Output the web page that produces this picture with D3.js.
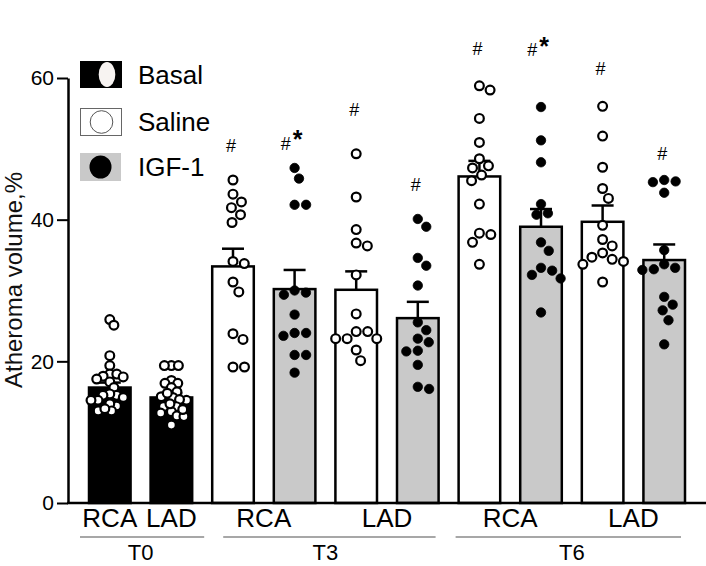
<!DOCTYPE html>
<html>
<head>
<meta charset="utf-8">
<script src="https://cdn.jsdelivr.net/npm/d3@7"></script>
<style>
  html, body { margin: 0; padding: 0; background: #fff; }
  svg { display: block; font-family: "Liberation Sans", Arial, sans-serif; }
</style>
</head>
<body>
<svg id="chart" width="706" height="566"></svg>
<script>
// ---------------- DATA ----------------
const timeGroups = ["T0", "T3", "T6"];
const barIds = ["T0-RCA", "T0-LAD", "T3-RCA-S", "T3-RCA-I", "T3-LAD-S", "T3-LAD-I", "T6-RCA-S", "T6-RCA-I", "T6-LAD-S", "T6-LAD-I"];
const barGroup = ["T0", "T0", "T3", "T3", "T3", "T3", "T6", "T6", "T6", "T6"];
const barArtery = ["RCA", "LAD", "RCA", "RCA", "LAD", "LAD", "RCA", "RCA", "LAD", "LAD"];
const barTreatment = ["Basal", "Basal", "Saline", "IGF-1", "Saline", "IGF-1", "Saline", "IGF-1", "Saline", "IGF-1"];
const barMeans = [16.3, 14.9, 33.4, 30.2, 30.1, 26.1, 46.1, 39.0, 39.7, 34.3];
const barSEM = [0.7, 0.6, 2.5, 2.7, 2.6, 2.3, 2.2, 2.5, 2.3, 2.2];

const ptsT0RCA = [25.9, 25.1, 20.8, 19.4, 18.2, 17.9, 17.5, 18.2, 17.8, 17.1, 16.3, 15.2, 15.4, 15.2, 14.9, 14.5, 14.5, 13.7, 14.0, 13.0, 13.0, 13.3];
const ptsT0LAD = [19.4, 19.4, 19.4, 17.3, 16.9, 16.9, 16.3, 15.7, 15.0, 14.9, 14.5, 14.6, 13.6, 13.6, 12.9, 12.7, 12.3, 12.2, 11.0, 15.5, 14.0, 13.2];
const ptsT3RCAS = [45.6, 43.6, 42.5, 41.7, 40.7, 39.6, 34.1, 33.8, 31.2, 29.8, 23.9, 23.1, 19.2, 19.2];
const ptsT3RCAI = [47.3, 45.8, 42.1, 42.1, 30.0, 29.4, 29.7, 26.6, 24.0, 23.6, 24.0, 20.9, 20.9, 18.4];
const ptsT3LADS = [49.3, 43.2, 38.6, 36.3, 36.7, 32.2, 26.7, 24.2, 24.2, 23.2, 23.2, 23.2, 21.6, 20.1];
const ptsT3LADI = [40.1, 39.0, 34.6, 33.5, 30.7, 25.5, 24.4, 23.2, 22.7, 21.4, 21.5, 19.5, 16.1, 16.4];
const ptsT6RCAS = [58.9, 58.3, 54.3, 50.9, 48.6, 47.6, 47.3, 46.3, 45.5, 42.2, 37.9, 36.8, 38.1, 33.7];
const ptsT6RCAI = [55.9, 51.2, 48.1, 42.2, 40.9, 40.7, 36.8, 35.6, 33.2, 32.8, 32.2, 31.7, 26.9];
const ptsT6LADS = [56.0, 51.8, 47.4, 44.4, 43.0, 39.2, 37.2, 36.3, 35.3, 34.7, 34.1, 33.7, 34.4, 31.2];
const ptsT6LADI = [45.3, 45.6, 45.4, 43.8, 35.7, 33.7, 33.0, 32.9, 33.2, 29.1, 28.0, 27.2, 25.8, 22.4];
const barPoints = [ptsT0RCA, ptsT0LAD, ptsT3RCAS, ptsT3RCAI, ptsT3LADS, ptsT3LADI, ptsT6RCAS, ptsT6RCAI, ptsT6LADS, ptsT6LADI];

// significance marks: text and the value (axis units) at which they sit
const annotText = ["", "", "#", "#*", "#", "#", "#", "#*", "#", "#"];
const annotValue = [0, 0, 50.4, 50.8, 55.6, 45.0, 64.1, 64.0, 61.3, 49.4];

const yTicks = [0, 20, 40, 60];
const yLabel = "Atheroma volume,%";
const legendItems = ["Basal", "Saline", "IGF-1"];

// ---------------- LAYOUT ----------------
const svg = d3.select("#chart");
const axisX0 = 68, axisXEnd = 706;

const x = d3.scaleBand().domain(barIds).range([89, 685]).paddingInner(0.325).paddingOuter(0);
const y = d3.scaleLinear().domain([0, 60]).range([503, 78]);

const fillFor = { "Basal": "#000", "Saline": "#fff", "IGF-1": "#c9c9c9" };

// bars
const bars = barIds.map((id, i) => ({ id, i, mean: barMeans[i], sem: barSEM[i], t: barTreatment[i] }));

svg.append("g").selectAll("rect").data(bars).join("rect")
  .attr("x", d => x(d.id))
  .attr("y", d => y(d.mean))
  .attr("width", x.bandwidth())
  .attr("height", d => y(0) - y(d.mean))
  .attr("fill", d => fillFor[d.t])
  .attr("stroke", "#000")
  .attr("stroke-width", 2.5);

// error bars (upper only)
const capHalf = 11;
const eg = svg.append("g").attr("stroke", "#000").attr("stroke-width", 2.5);
bars.forEach(d => {
  const cx = x(d.id) + x.bandwidth() / 2;
  eg.append("line").attr("x1", cx).attr("x2", cx).attr("y1", y(d.mean)).attr("y2", y(d.mean + d.sem));
  eg.append("line").attr("x1", cx - capHalf).attr("x2", cx + capHalf).attr("y1", y(d.mean + d.sem)).attr("y2", y(d.mean + d.sem));
});

// beeswarm dodge for points
function dodge(values, diam) {
  const order = values.map((v, k) => k).sort((a, b) => values[b] - values[a]);
  const placed = [];
  const out = new Array(values.length);
  order.forEach(k => {
    const py = y(values[k]);
    const cands = [0];
    placed.forEach(p => {
      const dy = Math.abs(p.y - py);
      if (dy < diam) {
        const dx = Math.sqrt(diam * diam - dy * dy);
        cands.push(p.x + dx, p.x - dx);
      }
    });
    cands.sort((a, b) => Math.abs(a) - Math.abs(b) || b - a);
    let best = 0;
    for (const c of cands) {
      const ok = placed.every(p => (p.x - c) ** 2 + (p.y - py) ** 2 >= diam * diam - 0.01);
      if (ok) { best = c; break; }
    }
    placed.push({ x: best, y: py });
    out[k] = { x: best, y: py, v: values[k] };
  });
  return out;
}

const pg = svg.append("g");
bars.forEach(d => {
  const cx = x(d.id) + x.bandwidth() / 2;
  const pts = dodge(barPoints[d.i], d.t === "Basal" ? 7 : 11.5);
  const filled = d.t === "IGF-1";
  pg.append("g").selectAll("circle").data(pts).join("circle")
    .attr("cx", p => cx + p.x)
    .attr("cy", p => p.y)
    .attr("r", filled ? 4.7 : 4.4)
    .attr("fill", filled ? "#000" : "#fff")
    .attr("stroke", "#000")
    .attr("stroke-width", filled ? 0.8 : 2.2);
});

// significance annotations
const ag = svg.append("g").attr("text-anchor", "middle");
bars.forEach(d => {
  const txt = annotText[d.i];
  if (!txt) return;
  const cx = x(d.id) + x.bandwidth() / 2;
  const t = ag.append("text").attr("x", cx - (txt.length > 1 ? 3 : 2)).attr("y", y(annotValue[d.i])).attr("dy", "0.36em")
    .attr("font-size", 18).attr("fill", "#000");
  t.append("tspan").text("#");
  if (txt.length > 1) {
    t.append("tspan").text("*").attr("font-size", 25).attr("font-weight", "bold").attr("dy", "-0.05em").attr("dx", 2);
  }
});

// axes
const yAxis = d3.axisLeft(y).tickValues(yTicks).tickSize(11).tickSizeOuter(0).tickPadding(3);
const yg = svg.append("g").attr("transform", `translate(${axisX0},0)`).call(yAxis);
yg.select(".domain").attr("stroke", "#000").attr("stroke-width", 2.5);
yg.selectAll(".tick line").attr("stroke", "#000").attr("stroke-width", 2);
yg.selectAll(".tick text").attr("font-size", 21).attr("fill", "#000")
  .attr("font-family", "'Liberation Sans', Arial, sans-serif");

svg.append("line").attr("x1", axisX0 - 1).attr("x2", axisXEnd).attr("y1", y(0)).attr("y2", y(0))
  .attr("stroke", "#000").attr("stroke-width", 2.5);

svg.append("text")
  .attr("transform", `translate(22,${280}) rotate(-90)`)
  .attr("text-anchor", "middle")
  .attr("font-size", 24)
  .attr("fill", "#111")
  .text(yLabel);

// artery labels: centre of bars sharing group + artery
const arteryLabels = d3.groups(bars, d => barGroup[d.i] + "|" + barArtery[d.i]).map(([key, arr]) => {
  const x0 = d3.min(arr, d => x(d.id));
  const x1 = d3.max(arr, d => x(d.id) + x.bandwidth());
  return { label: key.split("|")[1], cx: (x0 + x1) / 2 };
});
svg.append("g").selectAll("text").data(arteryLabels).join("text")
  .attr("x", d => d.cx).attr("y", 527)
  .attr("text-anchor", "middle").attr("font-size", 26).attr("fill", "#000")
  .text(d => d.label);

// time groups: underline + label
const groupPad = { "T0": [-9, 12], "T3": [11, -3], "T6": [-3, -4] };
timeGroups.forEach(g => {
  const arr = bars.filter(d => barGroup[d.i] === g);
  const x0 = d3.min(arr, d => x(d.id));
  const x1 = d3.max(arr, d => x(d.id) + x.bandwidth());
  const pad = groupPad[g];
  svg.append("line").attr("x1", x0 + pad[0]).attr("x2", x1 + pad[1]).attr("y1", 537).attr("y2", 537)
    .attr("stroke", "#8a8a8a").attr("stroke-width", 1.6);
  svg.append("text").attr("x", (x0 + x1) / 2).attr("y", 560).attr("text-anchor", "middle")
    .attr("font-size", 22).attr("fill", "#000").text(g);
});

// legend
const lg = svg.append("g");
const legTop = [61, 108, 153];
legendItems.forEach((name, k) => {
  const gy = legTop[k];
  const g = lg.append("g").attr("transform", `translate(80,${gy})`);
  if (name === "Basal") {
    g.append("rect").attr("width", 42).attr("height", 27).attr("fill", "#000");
    g.append("ellipse").attr("cx", 27).attr("cy", 13.5).attr("rx", 8.3).attr("ry", 12.5).attr("fill", "#f7f3f1");
  } else if (name === "Saline") {
    g.append("rect").attr("x", 0.5).attr("y", 0.5).attr("width", 41).attr("height", 27).attr("fill", "#fff").attr("stroke", "#666").attr("stroke-width", 1);
    g.append("circle").attr("cx", 21.5).attr("cy", 14).attr("r", 11.3).attr("fill", "#fff").attr("stroke", "#555").attr("stroke-width", 1);
  } else {
    g.append("rect").attr("width", 41).attr("height", 28).attr("fill", "#c9c9c9");
    g.append("ellipse").attr("cx", 20.5).attr("cy", 14).attr("rx", 11).attr("ry", 11.5).attr("fill", "#000");
  }
  g.append("text").attr("x", 58).attr("y", 14).attr("dy", "0.35em").attr("font-size", 26).attr("fill", "#000").text(name);
});
</script>
</body>
</html>
